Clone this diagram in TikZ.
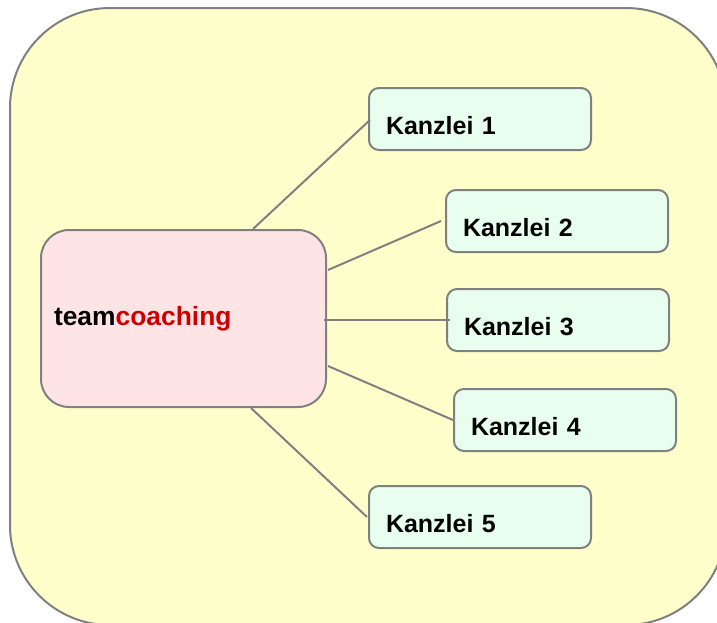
\documentclass[tikz,border=0pt]{standalone}
\usepackage{fontspec}
\setmainfont{Liberation Sans}
\usetikzlibrary{calc}
\definecolor{bgyellow}{HTML}{FFFFCC}
\definecolor{edgegray}{HTML}{808080}
\definecolor{pinkfill}{HTML}{FFE4E6}
\definecolor{mintfill}{HTML}{E8FFF0}
\definecolor{darkred}{HTML}{CC0000}
\tikzset{
  outerbox/.style={draw=edgegray, fill=bgyellow, line width=2pt, rounded corners=100pt},
  centerbox/.style={draw=edgegray, fill=pinkfill, line width=2pt, rounded corners=28pt,
    inner xsep=13pt, inner ysep=0pt, text width=259pt, align=left,
    text height=95pt, text depth=82pt, font=\fontsize{26.4}{30}\selectfont\bfseries},
  kbox/.style={draw=edgegray, fill=mintfill, line width=2pt, rounded corners=10pt,
    inner xsep=17pt, inner ysep=0pt, text width=188pt, align=left,
    text height=46pt, text depth=16pt, font=\fontsize{25}{29}\selectfont\bfseries},
  link/.style={draw=edgegray, line width=2pt}
}
\begin{document}
\begin{tikzpicture}[x=1pt,y=-1pt]
\useasboundingbox (0,0) rectangle (717,622);
\begin{scope}
\clip (0,0) rectangle (717,622);
\draw[outerbox] (10,8) rectangle (726,625);
\end{scope}
\node[centerbox, anchor=north west] (c) at (40,229) {team\textcolor{darkred}{coaching}};
\node[kbox, anchor=north west] (k1) at (368,87) {Kanzlei 1};
\node[kbox, anchor=north west] (k2) at (445,189) {Kanzlei 2};
\node[kbox, anchor=north west] (k3) at (446,288) {Kanzlei 3};
\node[kbox, anchor=north west] (k4) at (453,388) {Kanzlei 4};
\node[kbox, anchor=north west] (k5) at (368,485) {Kanzlei 5};
\draw[link] ($(c.north west)+(213,0)$) -- ($(k1.north west)+(2,33)$);
\draw[link] ($(c.north east)+(1,41)$) -- ($(k2.north west)+(-4,32)$);
\draw[link] ($(c.north east)+(-3,91)$) -- ($(k3.north west)+(4,32)$);
\draw[link] ($(c.north east)+(1,137)$) -- ($(k4.north west)+(0,32)$);
\draw[link] ($(c.south west)+(211,0)$) -- ($(k5.north west)+(-1,32)$);
\end{tikzpicture}
\end{document}
